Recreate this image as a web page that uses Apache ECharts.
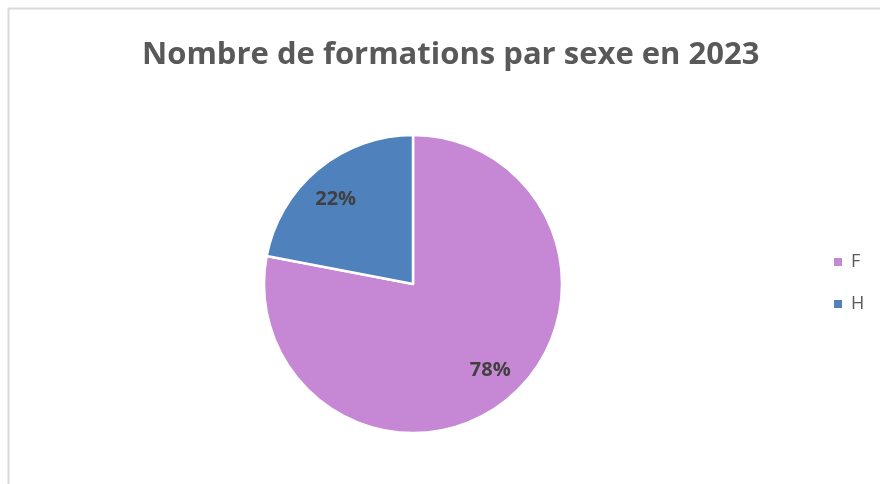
<!DOCTYPE html>
<html>
<head>
<meta charset="utf-8">
<script src="https://cdn.jsdelivr.net/npm/echarts@6/dist/echarts.min.js"></script>
<style>
  html, body { margin: 0; padding: 0; background: #fff; }
  #main { width: 880px; height: 484px; }
</style>
</head>
<body>
<div id="main"></div>
<script>
(function(){
    var categories = ['F', 'H'];
    var values = [78, 22];
    var colors = ['#c688d4', '#4f81bd'];

    var myChart = echarts.init(document.getElementById('main'));

    var pieData = [];
    for (var i = 0; i < categories.length; i++) {
        pieData.push({ name: categories[i], value: values[i], itemStyle: { color: colors[i] } });
    }

    // small nudges so the labels sit where Excel put them
    var labelShift = [[4, -2], [-4, 4]];

    var option = {
        backgroundColor: '#fff',
        animation: false,
        graphic: [{
            type: 'rect',
            shape: { x: 8.5, y: 8.5, width: 900, height: 500 },
            style: { fill: 'none', stroke: '#d9d9d9', lineWidth: 2 },
            silent: true
        }],
        title: {
            text: 'Nombre de formations par sexe en 2023',
            left: 137,
            top: 35,
            textStyle: {
                fontFamily: 'Open Sans',
                fontWeight: 'bold',
                fontSize: 31,
                color: '#595959'
            }
        },
        legend: {
            orient: 'vertical',
            left: 832,
            top: 253,
            padding: 0,
            itemWidth: 10,
            itemHeight: 10,
            itemGap: 24,
            icon: 'rect',
            textStyle: {
                fontFamily: 'Open Sans',
                fontSize: 18,
                color: '#595959',
                padding: [0, 0, 0, 3]
            },
            data: categories
        },
        series: [
            {
                name: 'sexe',
                type: 'pie',
                center: [413, 284],
                radius: 149,
                startAngle: 90,
                clockwise: true,
                itemStyle: { borderColor: '#fff', borderWidth: 2.5 },
                label: { show: false },
                labelLine: { show: false },
                emphasis: { disabled: true },
                data: pieData
            },
            {
                name: 'labels',
                type: 'pie',
                center: [413, 284],
                radius: [75, 149],
                startAngle: 90,
                clockwise: true,
                silent: true,
                itemStyle: { color: 'transparent' },
                label: {
                    show: true,
                    position: 'inner',
                    formatter: '{d}%',
                    fontFamily: 'Open Sans',
                    fontWeight: 'bold',
                    fontSize: 20,
                    color: '#404040'
                },
                labelLayout: function (params) {
                    var s = labelShift[params.dataIndex];
                    return { dx: s[0], dy: s[1] };
                },
                labelLine: { show: false },
                data: categories.map(function (c, i) { return { name: c, value: values[i] }; })
            }
        ]
    };

    myChart.setOption(option);
})();
</script>
</body>
</html>
